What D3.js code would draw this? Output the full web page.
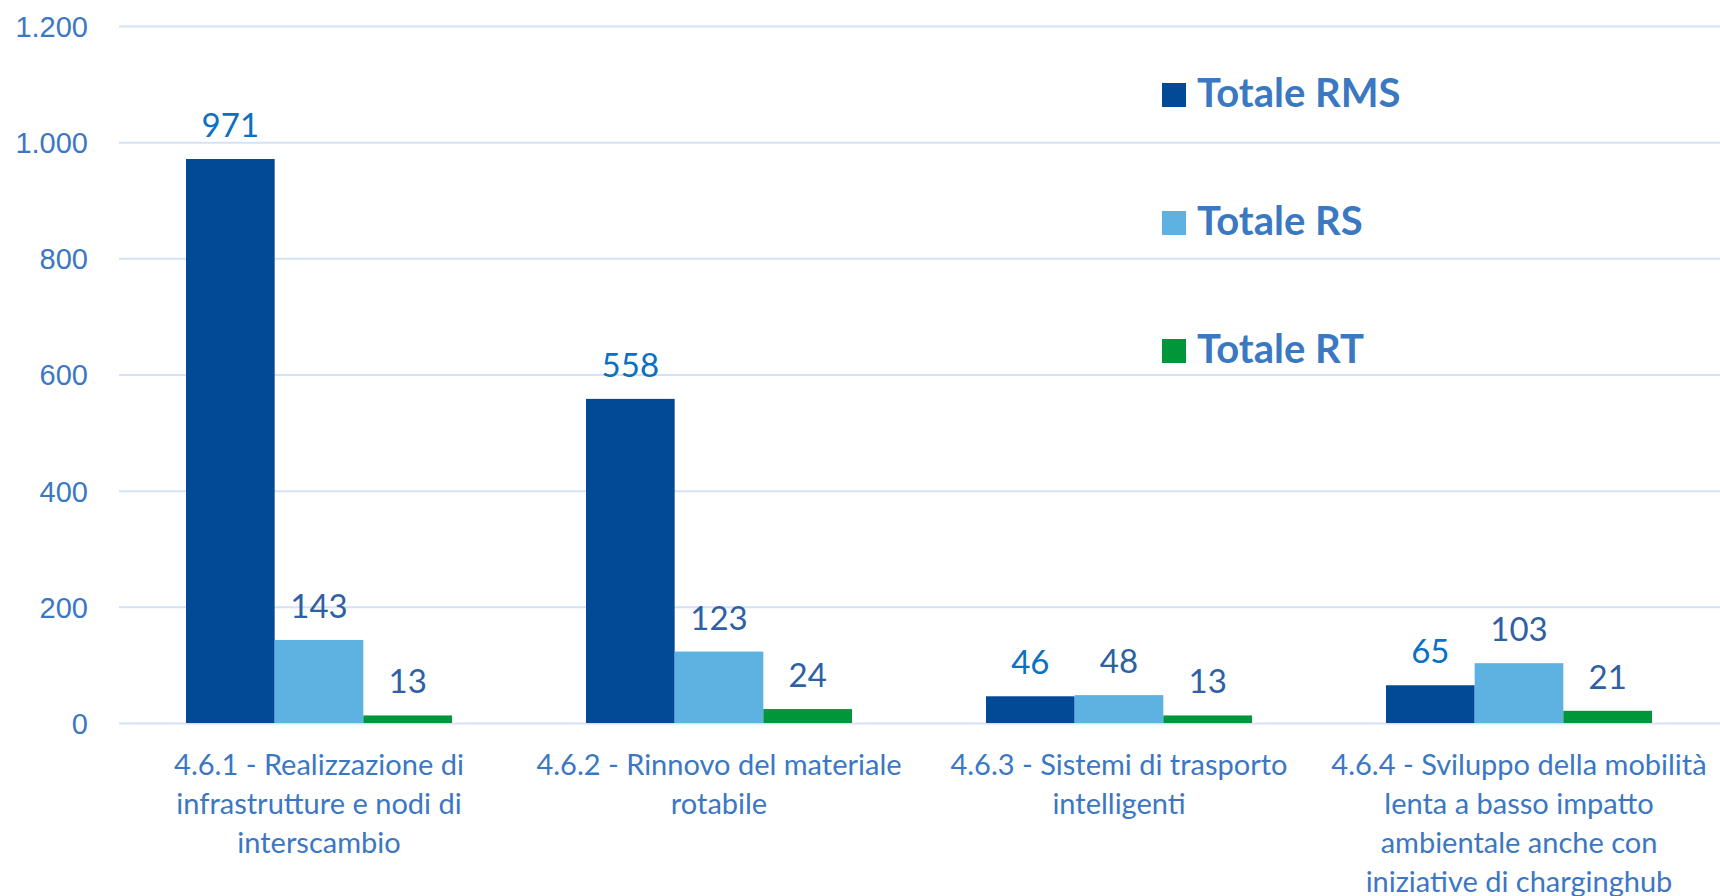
<!DOCTYPE html>
<html>
<head>
<meta charset="utf-8">
<script src="https://cdn.jsdelivr.net/npm/d3@7"></script>
<style>
  body { margin: 0; background: #fff; }
  svg { display: block; font-family: Lato, "Open Sans", sans-serif; }
</style>
</head>
<body>
<script>
// Chart data
var categories = [
    ["4.6.1 - Realizzazione di", "infrastrutture e nodi di", "interscambio"],
    ["4.6.2 - Rinnovo del materiale", "rotabile"],
    ["4.6.3 - Sistemi di trasporto", "intelligenti"],
    ["4.6.4 - Sviluppo della mobilità", "lenta a basso impatto", "ambientale anche con", "iniziative di charginghub"]
];
var seriesNames = ["Totale RMS", "Totale RS", "Totale RT"];
var rmsValues = [971, 558, 46, 65];
var rsValues = [143, 123, 48, 103];
var rtValues = [13, 24, 13, 21];
var yTicks = [0, 200, 400, 600, 800, 1000, 1200];

var seriesValues = [rmsValues, rsValues, rtValues];
var barColors = ["#034a96", "#5eb2e2", "#00973b"];
var labelColors = ["#0b70c1", "#2e60a4", "#2e60a4"];
var textColor = "#3b77c3";

var width = 1720, height = 896;
var margin = {left: 119, right: 1, top: 26, bottom: 173};

var svg = d3.select("body").append("svg")
    .attr("width", width)
    .attr("height", height);

// Scales
var y = d3.scaleLinear()
    .domain([0, 1200])
    .range([height - margin.bottom, margin.top]);

var x0 = d3.scaleBand()
    .domain(d3.range(categories.length))
    .range([margin.left, width - margin.right])
    .paddingInner(0.335)
    .paddingOuter(0.1675);

var x1 = d3.scaleBand()
    .domain(d3.range(seriesNames.length))
    .range([0, x0.bandwidth()]);

// Gridlines + y tick labels
var yAxis = svg.append("g")
    .attr("transform", "translate(" + margin.left + ",0)")
    .call(d3.axisLeft(y)
        .tickValues(yTicks)
        .tickSize(-(width - margin.left))
        .tickPadding(31)
        .tickFormat(function(d) { return d3.format(",")(d).replace(/,/g, "."); }));
yAxis.select(".domain").remove();
yAxis.selectAll(".tick line")
    .attr("stroke", "#d6e2f3")
    .attr("stroke-width", 2);
yAxis.selectAll(".tick text")
    .attr("fill", textColor)
    .attr("font-size", 29)
    .attr("dy", "0.36em");

// Bars
var groups = svg.append("g")
    .selectAll("g")
    .data(categories)
    .enter()
    .append("g")
    .attr("transform", function(d, i) { return "translate(" + x0(i) + ",0)"; });

groups.selectAll("rect")
    .data(function(d, i) { return seriesValues.map(function(s, j) { return {s: j, v: s[i]}; }); })
    .enter()
    .append("rect")
    .attr("x", function(d) { return x1(d.s); })
    .attr("width", x1.bandwidth())
    .attr("y", function(d) { return y(d.v); })
    .attr("height", function(d) { return y(0) - y(d.v); })
    .attr("fill", function(d) { return barColors[d.s]; });

// Value labels
groups.selectAll("text.val")
    .data(function(d, i) { return seriesValues.map(function(s, j) { return {s: j, v: s[i]}; }); })
    .enter()
    .append("text")
    .attr("class", "val")
    .attr("x", function(d) { return x1(d.s) + x1.bandwidth() / 2; })
    .attr("y", function(d) { return y(d.v) - 22; })
    .attr("text-anchor", "middle")
    .attr("font-size", 33)
    .attr("fill", function(d) { return labelColors[d.s]; })
    .text(function(d) { return d.v; });

// Category labels
var catLabels = svg.append("g")
    .selectAll("text")
    .data(categories)
    .enter()
    .append("text")
    .attr("x", function(d, i) { return x0(i) + x0.bandwidth() / 2; })
    .attr("y", 775)
    .attr("text-anchor", "middle")
    .attr("font-size", 29)
    .attr("fill", textColor);

catLabels.selectAll("tspan")
    .data(function(d) { return d; })
    .enter()
    .append("tspan")
    .attr("x", function() { return this.parentNode.getAttribute("x"); })
    .attr("dy", function(d, i) { return i == 0 ? 0 : 39; })
    .text(function(d) { return d; });

// Legend
var legend = svg.append("g")
    .selectAll("g")
    .data(seriesNames)
    .enter()
    .append("g")
    .attr("transform", function(d, i) { return "translate(1162," + (107 + i * 128) + ")"; });

legend.append("rect")
    .attr("y", -24)
    .attr("width", 24)
    .attr("height", 24)
    .attr("fill", function(d, i) { return barColors[i]; });

legend.append("text")
    .attr("x", 35)
    .attr("font-size", 40)
    .attr("font-weight", "bold")
    .attr("fill", "#3a78c2")
    .text(function(d) { return d; });
</script>
</body>
</html>
